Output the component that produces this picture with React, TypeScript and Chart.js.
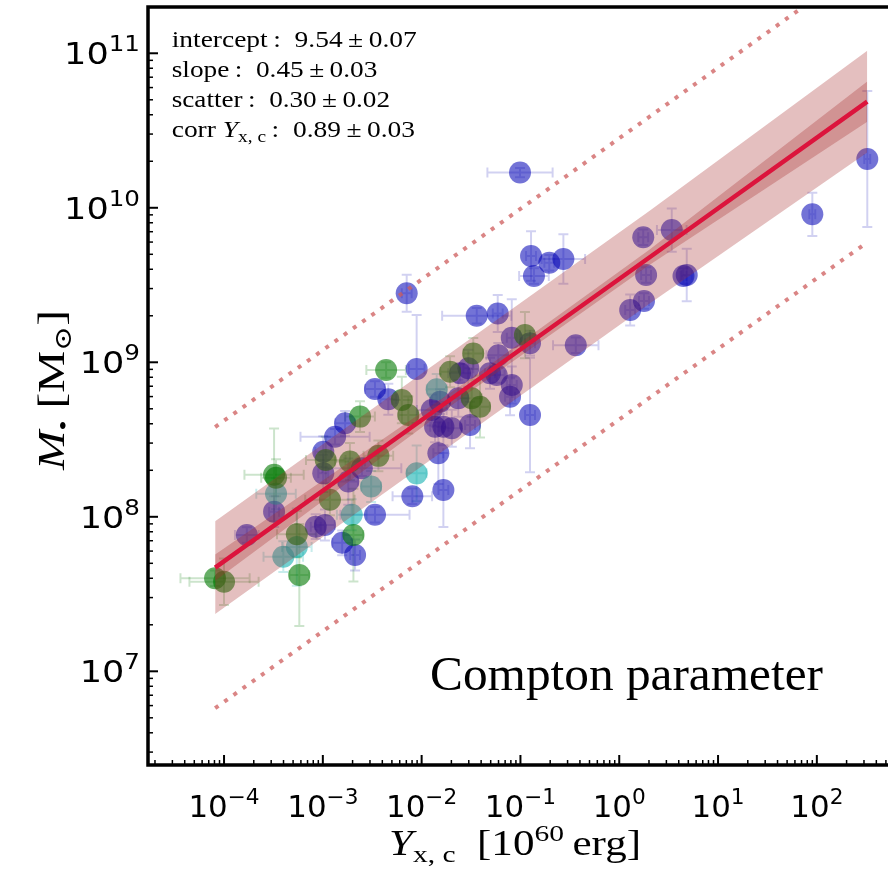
import React, { useEffect, useRef } from "react";
import { Chart, registerables } from "chart.js";

Chart.register(...registerables);

// ---------- axis limits & tick labels ----------
const X_MIN = 1.7e-5;
const X_MAX = 525;
const Y_MIN = 2.475e6;
const Y_MAX = 1.993e11;

const X_TICK_VALUES = [1e-4, 1e-3, 1e-2, 1e-1, 1, 10, 100];
const X_TICK_EXPONENTS = ["\u22124", "\u22123", "\u22122", "\u22121", "0", "1", "2"];
const Y_TICK_VALUES = [1e7, 1e8, 1e9, 1e10, 1e11];
const Y_TICK_EXPONENTS = ["7", "8", "9", "10", "11"];

// ---------- data: blue sample ----------
const BLUE_X = [0.099, 7.06e-3, 8.9e-3, 0.0361, 0.0589, 0.128, 0.137, 0.196, 0.272, 1.75, 3.4, 1.87, 1.78, 1.29, 4.82, 4.47, 90, 324, 0.363, 0.125, 0.0166, 0.01476, 0.0817, 0.125, 0.0597, 0.0297, 0.0245, 0.0492, 0.0575, 0.0817, 0.0785, 0.0235, 0.01535, 0.01265, 0.01368, 0.0166, 0.0202, 0.0309, 3.37e-3, 4.6e-3, 1.68e-3, 1.33e-3, 1.01e-3, 1.01e-3, 1.05e-3, 8.47e-4, 2.48e-3, 1.81e-3, 1.57e-3, 2.12e-3, 3.37e-3, 8.05e-3, 3.21e-4, 1.7e-4];
const BLUE_Y = [1.69e10, 2.8e9, 9.05e8, 2.0e9, 2.07e9, 4.88e9, 3.62e9, 4.41e9, 4.66e9, 6.44e9, 7.18e9, 3.67e9, 2.49e9, 2.18e9, 3.67e9, 3.62e9, 9.08e9, 2.07e10, 1.29e9, 4.56e8, 1.49e8, 2.58e8, 1.44e9, 1.33e9, 1.11e9, 9.15e8, 8.49e8, 8.49e8, 8.28e8, 7.13e8, 5.98e8, 5.85e8, 5.56e8, 4.91e8, 3.83e8, 3.83e8, 3.74e8, 3.93e8, 6.71e8, 5.77e8, 4.03e8, 3.3e8, 2.64e8, 1.91e8, 8.85e7, 8.63e7, 2.06e8, 1.69e8, 6.79e7, 5.66e7, 1.03e8, 1.36e8, 1.08e8, 7.62e7];
// uncertainties in dex
const BLUE_XERR = [0.33, 0.05, 0.08, 0.35, 0.05, 0.05, 0.15, 0.05, 0.22, 0.05, 0.15, 0.05, 0.05, 0.05, 0.05, 0.03, 0.03, 0.03, 0.23, 0.05, 0.05, 0.05, 0.05, 0.05, 0.12, 0.05, 0.12, 0.05, 0.08, 0.05, 0.05, 0.1, 0.1, 0.15, 0.05, 0.05, 0.1, 0.05, 0.1, 0.08, 0.1, 0.35, 0.08, 0.05, 0.1, 0.05, 0.4, 0.1, 0.1, 0.05, 0.35, 0.2, 0.05, 0.12];
const BLUE_YERR = [0.03, 0.12, 0.35, 0.05, 0.12, 0.16, 0.05, 0.05, 0.16, 0.05, 0.14, 0.05, 0.05, 0.1, 0.17, 0.05, 0.14, 0.44, 0.05, 0.37, 0.24, 0.2, 0.25, 0.08, 0.08, 0.12, 0.06, 0.1, 0.05, 0.12, 0.12, 0.12, 0.08, 0.1, 0.1, 0.12, 0.12, 0.15, 0.05, 0.1, 0.08, 0.05, 0.1, 0.12, 0.1, 0.08, 0.05, 0.15, 0.08, 0.1, 0.05, 0.05, 0.1, 0.05];

// ---------- data: green sample ----------
const GREEN_X = [8.11e-5, 1.0e-4, 3.21e-4, 3.36e-4, 5.78e-4, 5.45e-4, 1.18e-3, 1.07e-3, 1.88e-3, 2.04e-3, 2.38e-3, 3.65e-3, 4.37e-3, 6.3e-3, 7.33e-3, 0.0194, 0.0333, 0.0321, 0.039, 0.111];
const GREEN_Y = [4.0e7, 3.8e7, 1.87e8, 1.79e8, 4.2e7, 7.71e7, 1.29e8, 2.33e8, 2.28e8, 7.62e7, 4.45e8, 2.48e8, 8.91e8, 5.7e8, 4.56e8, 8.69e8, 1.14e9, 5.85e8, 5.16e8, 1.5e9];
const GREEN_XERR = [0.35, 0.35, 0.3, 0.15, 0.1, 0.2, 0.25, 0.2, 0.15, 0.1, 0.15, 0.15, 0.2, 0.1, 0.1, 0.1, 0.1, 0.1, 0.1, 0.05];
const GREEN_YERR = [0.05, 0.15, 0.3, 0.12, 0.33, 0.15, 0.1, 0.15, 0.12, 0.3, 0.1, 0.1, 0.05, 0.15, 0.12, 0.1, 0.1, 0.12, 0.2, 0.15];

// ---------- data: cyan sample ----------
const CYAN_X = [3.36e-4, 3.98e-4, 5.45e-4, 1.96e-3, 3.08e-3, 8.9e-3, 0.0142];
const CYAN_Y = [1.41e8, 5.52e7, 6.37e7, 1.03e8, 1.57e8, 1.91e8, 6.68e8];
const CYAN_XERR = [0.2, 0.2, 0.15, 0.15, 0.1, 0.1, 0.1];
const CYAN_YERR = [0.1, 0.1, 0.25, 0.1, 0.1, 0.18, 0.1];

// ---------- fit, confidence band, intrinsic scatter band, 3-sigma lines ----------
const FIT_X = [8.13e-5, 3.16e-2, 2.0, 323.6];
const FIT_Y = [4.69e7, 7.16e8, 4.75e9, 4.86e10];
const INNER_HI = [5.7e7, 7.85e8, 5.33e9, 6.56e10];
const INNER_LO = [3.85e7, 6.53e8, 4.24e9, 3.61e10];
const OUTER_HI = [9.35e7, 1.43e9, 9.48e9, 1.04e11];
const OUTER_LO = [2.35e7, 3.59e8, 2.38e9, 2.28e10];
const DOT_X = [8.13e-5, 323.6];
const DOT_HI = [3.81e8, 3.95e11];
const DOT_LO = [5.77e6, 5.98e9];

// ---------- annotation text ----------
const STAT_NAMES = ["intercept", "slope", "scatter", "corr"];
const STAT_VALUES = ["9.54", "0.45", "0.30", "0.89"];
const STAT_ERRORS = ["0.07", "0.03", "0.02", "0.03"];
const PANEL_TITLE = "Compton parameter";

const SERIF = '"Liberation Serif", "DejaVu Serif", serif';
const SANS = '"DejaVu Sans", sans-serif';

type Seg = { t: string; size: number; italic?: boolean; dy?: number; family?: string };

function segFont(s: Seg) {
  return `${s.italic ? "italic " : ""}${s.size}px ${s.family || SERIF}`;
}

function drawRich(ctx: CanvasRenderingContext2D, segs: Seg[], x: number, y: number, align: string, targetW?: number, fixedScale?: number) {
  const widths: number[] = [];
  let w = 0;
  for (const s of segs) {
    ctx.font = segFont(s);
    const m = ctx.measureText(s.t).width;
    widths.push(m);
    w += m;
  }
  const sx = fixedScale ? fixedScale : targetW ? targetW / w : 1;
  ctx.save();
  ctx.translate(x, y);
  ctx.scale(sx, 1);
  let cx = align === "center" ? -w / 2 : align === "right" ? -w : 0;
  ctx.textAlign = "left";
  ctx.textBaseline = "alphabetic";
  segs.forEach((s, i) => {
    ctx.font = segFont(s);
    ctx.fillText(s.t, cx, s.dy || 0);
    cx += widths[i];
  });
  ctx.restore();
}

const pts = (xs: number[], ys: number[]) => xs.map((x, i) => ({ x, y: ys[i] }));

const GROUPS = [
  { x: CYAN_X, y: CYAN_Y, xe: CYAN_XERR, ye: CYAN_YERR, color: "rgba(0,170,170,0.22)" },
  { x: GREEN_X, y: GREEN_Y, xe: GREEN_XERR, ye: GREEN_YERR, color: "rgba(0,120,0,0.2)" },
  { x: BLUE_X, y: BLUE_Y, xe: BLUE_XERR, ye: BLUE_YERR, color: "rgba(0,0,180,0.18)" },
];

const errorBarPlugin = {
  id: "errorBars",
  beforeDatasetsDraw(chart: any) {
    const { ctx, chartArea: a, scales } = chart;
    const xs = scales.x;
    const ys = scales.y;
    ctx.save();
    ctx.beginPath();
    ctx.rect(a.left, a.top, a.right - a.left, a.bottom - a.top);
    ctx.clip();
    ctx.lineWidth = 2;
    const cap = 5;
    for (const g of GROUPS) {
      ctx.strokeStyle = g.color;
      for (let i = 0; i < g.x.length; i++) {
        const px = xs.getPixelForValue(g.x[i]);
        const py = ys.getPixelForValue(g.y[i]);
        const xl = xs.getPixelForValue(g.x[i] / Math.pow(10, g.xe[i]));
        const xr = xs.getPixelForValue(g.x[i] * Math.pow(10, g.xe[i]));
        const yt = ys.getPixelForValue(g.y[i] * Math.pow(10, g.ye[i]));
        const yb = ys.getPixelForValue(g.y[i] / Math.pow(10, g.ye[i]));
        ctx.beginPath();
        ctx.moveTo(xl, py); ctx.lineTo(xr, py);
        ctx.moveTo(xl, py - cap); ctx.lineTo(xl, py + cap);
        ctx.moveTo(xr, py - cap); ctx.lineTo(xr, py + cap);
        ctx.moveTo(px, yt); ctx.lineTo(px, yb);
        ctx.moveTo(px - cap, yt); ctx.lineTo(px + cap, yt);
        ctx.moveTo(px - cap, yb); ctx.lineTo(px + cap, yb);
        ctx.stroke();
      }
    }
    ctx.restore();
  },
};

const decorPlugin = {
  id: "decor",
  afterDraw(chart: any) {
    const { ctx, chartArea: a, scales } = chart;
    const xs = scales.x;
    const ys = scales.y;
    ctx.save();
    ctx.strokeStyle = "#000";
    ctx.fillStyle = "#000";
    // y ticks (inward)
    for (let d = Math.floor(Math.log10(Y_MIN)); d <= Math.ceil(Math.log10(Y_MAX)); d++) {
      for (let k = 1; k <= 9; k++) {
        const v = k * Math.pow(10, d);
        if (v < Y_MIN || v > Y_MAX) continue;
        const py = ys.getPixelForValue(v);
        const major = k === 1;
        ctx.lineWidth = major ? 2 : 1.5;
        ctx.beginPath();
        ctx.moveTo(a.left, py);
        ctx.lineTo(a.left + (major ? 10 : 5), py);
        ctx.stroke();
      }
    }
    // x ticks (inward)
    for (let d = Math.floor(Math.log10(X_MIN)); d <= Math.ceil(Math.log10(X_MAX)); d++) {
      for (let k = 1; k <= 9; k++) {
        const v = k * Math.pow(10, d);
        if (v < X_MIN || v > X_MAX) continue;
        const px = xs.getPixelForValue(v);
        const major = k === 1;
        ctx.lineWidth = major ? 2 : 1.5;
        ctx.beginPath();
        ctx.moveTo(px, a.bottom);
        ctx.lineTo(px, a.bottom - (major ? 10 : 5));
        ctx.stroke();
      }
    }
    // spines: left, top, bottom
    ctx.lineWidth = 3.5;
    ctx.lineCap = "square";
    ctx.beginPath();
    ctx.moveTo(a.right + 4, a.top);
    ctx.lineTo(a.left, a.top);
    ctx.lineTo(a.left, a.bottom);
    ctx.lineTo(a.right + 4, a.bottom);
    ctx.stroke();

    // y tick labels
    Y_TICK_VALUES.forEach((v, i) => {
      const py = ys.getPixelForValue(v);
      drawRich(ctx, [
        { t: "10", size: 30, family: SANS },
        { t: Y_TICK_EXPONENTS[i], size: 21, family: SANS, dy: -13 },
      ], 140, py + 11, "right", undefined, 1.17);
    });
    // x tick labels
    X_TICK_VALUES.forEach((v, i) => {
      const px = xs.getPixelForValue(v);
      drawRich(ctx, [
        { t: "10", size: 30, family: SANS },
        { t: X_TICK_EXPONENTS[i], size: 21, family: SANS, dy: -13 },
      ], px, 817, "center", undefined, 1.03);
    });

    // x axis title
    drawRich(ctx, [
      { t: "Y", size: 35, italic: true },
      { t: "x, c", size: 24, dy: 7 },
      { t: "  [10", size: 35 },
      { t: "60", size: 24, dy: -14 },
      { t: "\u2009erg]", size: 35 },
    ], 389, 855, "left", 252);

    // y axis title (rotated)
    ctx.save();
    ctx.translate(64, 390);
    ctx.rotate(-Math.PI / 2);
    drawRich(ctx, [
      { t: "M", size: 38, italic: true },
      { t: "\u2022", size: 24, dy: 7 },
      { t: " [M", size: 38 },
      { t: "\u2299", size: 24, dy: 7 },
      { t: "]", size: 38 },
    ], 0, 0, "center", 160);
    ctx.restore();

    // statistics box
    const baselines = [47.3, 77.3, 107.3, 136.7];
    const rights = [416.7, 377.3, 390, 415];
    STAT_NAMES.forEach((name, i) => {
      const segs: Seg[] = [{ t: name, size: 24 }];
      if (i === 3) {
        segs[0] = { t: name + " ", size: 24 };
        segs.push({ t: "Y", size: 24, italic: true });
        segs.push({ t: "x, c", size: 17, dy: 5 });
      }
      segs.push({ t: "\u2009:  " + STAT_VALUES[i] + "\u2009\u00b1\u2009" + STAT_ERRORS[i], size: 24 });
      drawRich(ctx, segs, 171.7, baselines[i], "left", rights[i] - 171.7);
    });

    // panel title
    drawRich(ctx, [{ t: PANEL_TITLE, size: 48 }], 430, 690, "left", 393);
    ctx.restore();
  },
};

export default function App() {
  const ref = useRef<HTMLCanvasElement | null>(null);
  useEffect(() => {
    if (!ref.current) return;
    const lineDs = (data: any[], extra: any) => ({
      type: "line",
      data,
      pointRadius: 0,
      borderWidth: 0,
      fill: false,
      tension: 0,
      ...extra,
    });
    const chart = new Chart(ref.current, {
      type: "scatter",
      data: {
        datasets: [
          lineDs(pts(FIT_X, OUTER_HI), { fill: "+1", backgroundColor: "rgba(165,42,42,0.3)", order: 6 }),
          lineDs(pts(FIT_X, OUTER_LO), { order: 6 }),
          lineDs(pts(FIT_X, INNER_HI), { fill: "+1", backgroundColor: "rgba(165,42,42,0.3)", order: 5 }),
          lineDs(pts(FIT_X, INNER_LO), { order: 5 }),
          lineDs(pts(FIT_X, FIT_Y), { borderColor: "rgb(220,20,60)", borderWidth: 4.5, order: 1 }),
          lineDs(pts(DOT_X, DOT_HI), { borderColor: "rgba(205,92,92,0.75)", borderWidth: 4, borderDash: [4, 7.3], borderCapStyle: "butt", order: 2 }),
          lineDs(pts(DOT_X, DOT_LO), { borderColor: "rgba(205,92,92,0.75)", borderWidth: 4, borderDash: [4, 7.3], borderCapStyle: "butt", order: 2 }),
          { data: pts(BLUE_X, BLUE_Y), backgroundColor: "rgba(0,0,180,0.55)", borderWidth: 0, pointRadius: 11, order: 12 },
          { data: pts(CYAN_X, CYAN_Y), backgroundColor: "rgba(0,170,170,0.55)", borderWidth: 0, pointRadius: 11, order: 11 },
          { data: pts(GREEN_X, GREEN_Y), backgroundColor: "rgba(0,120,0,0.6)", borderWidth: 0, pointRadius: 11, order: 10 },
        ] as any,
      },
      options: {
        animation: false,
        responsive: false,
        maintainAspectRatio: false,
        devicePixelRatio: 1,
        events: [],
        layout: { autoPadding: false, padding: { left: 148, top: 7, right: 0, bottom: 106 } },
        scales: {
          x: { type: "logarithmic", min: X_MIN, max: X_MAX, display: false },
          y: { type: "logarithmic", min: Y_MIN, max: Y_MAX, display: false },
        },
        plugins: { legend: { display: false }, tooltip: { enabled: false } },
      } as any,
      plugins: [errorBarPlugin, decorPlugin],
    });
    return () => chart.destroy();
  }, []);
  return (
    <div style={{ position: "absolute", left: 0, top: 0, width: 888, height: 871, overflow: "hidden", background: "#fff" }}>
      <canvas ref={ref} width={888} height={871} style={{ display: "block", width: 888, height: 871 }} />
    </div>
  );
}
